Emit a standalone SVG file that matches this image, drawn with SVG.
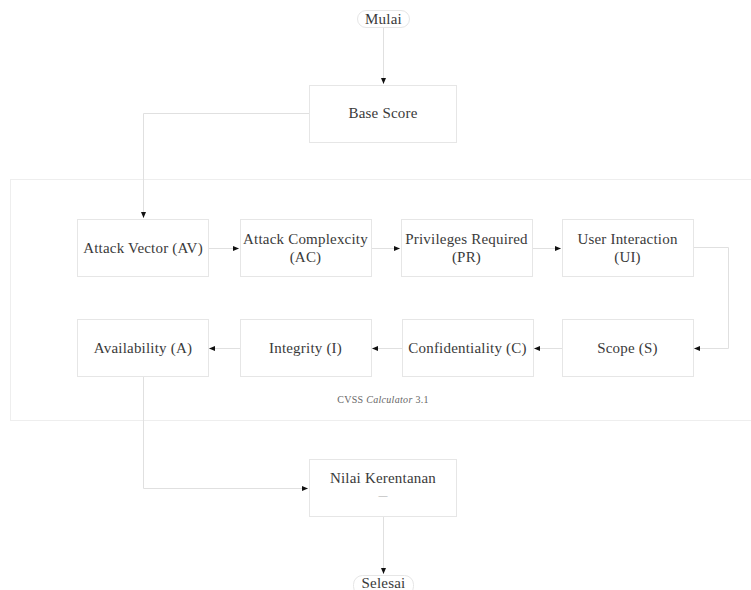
<svg xmlns="http://www.w3.org/2000/svg" width="751" height="590" viewBox="0 0 751 590">
<style>
.box{fill:#fff;stroke:#e6e6e6;stroke-width:1}
.t{font-family:"Liberation Serif","Times New Roman",serif;font-size:15px;fill:#3a3a3a;text-anchor:middle;letter-spacing:0.2px}
.c{fill:none;stroke:#e0e0e0;stroke-width:1}
</style>
<defs>
<marker id="a" viewBox="0 0 6 6" refX="6" refY="3" markerWidth="6" markerHeight="6" orient="auto" markerUnits="userSpaceOnUse">
<path d="M0,0.5 L6,3 L0,5.5 z" fill="#111"/>
</marker>
</defs>
<rect width="751" height="590" fill="#fff"/>
<g id="container">
<rect x="10.5" y="179.5" width="750" height="241" fill="none" stroke="#eeeeee"/>
<text x="383" y="403" font-family="Liberation Serif,serif" font-size="10" fill="#666" text-anchor="middle" letter-spacing="0.3">CVSS <tspan font-style="italic">Calculator</tspan> 3.1</text>
</g>
<g id="connectors">
<path class="c" d="M383.5,27 V84" marker-end="url(#a)"/>
<path class="c" d="M309,113.5 H143.5 V218" marker-end="url(#a)"/>
<path class="c" d="M208,248.5 H239" marker-end="url(#a)"/>
<path class="c" d="M371,248.5 H400" marker-end="url(#a)"/>
<path class="c" d="M532,248.5 H561" marker-end="url(#a)"/>
<path class="c" d="M693,247.5 H728.5 V348.5 H694" marker-end="url(#a)"/>
<path class="c" d="M562,348.5 H534" marker-end="url(#a)"/>
<path class="c" d="M402,348.5 H372" marker-end="url(#a)"/>
<path class="c" d="M240,348.5 H209" marker-end="url(#a)"/>
<path class="c" d="M143.5,377 V488.5 H308" marker-end="url(#a)"/>
<path class="c" d="M383.5,516 V574" marker-end="url(#a)"/>
</g>
<g id="mulai">
<rect class="box" x="357.5" y="10.5" width="52" height="17" rx="8.5"/>
<text class="t" x="383.5" y="24">Mulai</text>
</g>
<g id="base-score">
<rect class="box" x="309.5" y="85.5" width="147" height="57"/>
<text class="t" x="383" y="118">Base Score</text>
</g>
<g id="av">
<rect class="box" x="77.5" y="219.5" width="131" height="57"/>
<text class="t" x="143" y="253">Attack Vector (AV)</text>
</g>
<g id="ac">
<rect class="box" x="240.5" y="219.5" width="131" height="57"/>
<text class="t" x="305.5" y="244">Attack Complexcity</text>
<text class="t" x="305.5" y="262">(AC)</text>
</g>
<g id="pr">
<rect class="box" x="401.5" y="219.5" width="131" height="57"/>
<text class="t" x="466.5" y="244">Privileges Required</text>
<text class="t" x="466.5" y="262">(PR)</text>
</g>
<g id="ui">
<rect class="box" x="562.5" y="219.5" width="131" height="57"/>
<text class="t" x="627.5" y="244">User Interaction</text>
<text class="t" x="627.5" y="262">(UI)</text>
</g>
<g id="availability">
<rect class="box" x="77.5" y="319.5" width="131" height="57"/>
<text class="t" x="143" y="353">Availability (A)</text>
</g>
<g id="integrity">
<rect class="box" x="240.5" y="319.5" width="131" height="57"/>
<text class="t" x="305.5" y="353">Integrity (I)</text>
</g>
<g id="confidentiality">
<rect class="box" x="402.5" y="319.5" width="131" height="57"/>
<text class="t" x="467.5" y="353">Confidentiality (C)</text>
</g>
<g id="scope">
<rect class="box" x="562.5" y="319.5" width="131" height="57"/>
<text class="t" x="627.5" y="353">Scope (S)</text>
</g>
<g id="nilai">
<rect class="box" x="309.5" y="459.5" width="147" height="57"/>
<text class="t" x="383" y="483">Nilai Kerentanan</text>
<text x="383" y="498" font-family="Liberation Serif,serif" font-size="9" fill="#aaa" text-anchor="middle">—</text>
</g>
<g id="selesai">
<rect class="box" x="353.5" y="575.5" width="60" height="20" rx="9"/>
<text class="t" x="383.5" y="588">Selesai</text>
</g>
</svg>
